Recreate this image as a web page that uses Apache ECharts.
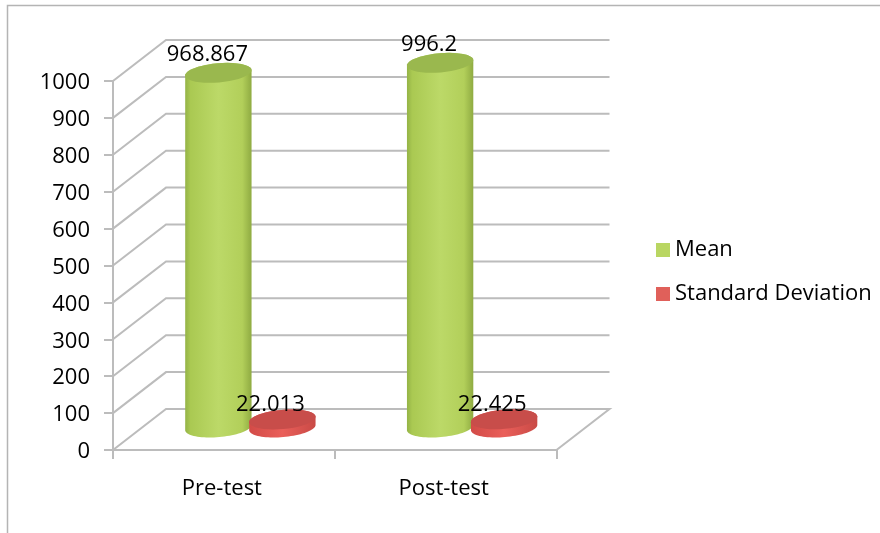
<!DOCTYPE html>
<html><head><meta charset="utf-8">
<style>html,body{margin:0;padding:0;background:#fff}#c{width:880px;height:533px;filter:blur(0.45px)}</style>
<script src="https://cdn.jsdelivr.net/npm/echarts@6/dist/echarts.min.js"></script>
</head><body><div id="c"></div>
<script>
const categories = ['Pre-test', 'Post-test'];
const meanValues = [968.867, 996.2];
const sdValues = [22.013, 22.425];
const meanLabels = ['968.867', '996.2'];
const sdLabels = ['22.013', '22.425'];
const yTicks = [0, 100, 200, 300, 400, 500, 600, 700, 800, 900, 1000];

const FONT = '"Open Sans"';
const DX = 53, DY = -41;
const RX = 33.3, RY = 9.6, TILT = 5 * Math.PI / 180;
const GRID = '#bcbcbc';

function ellipsePts(cx, cy, from, to) {
  const pts = [];
  for (let i = 0; i <= 40; i++) {
    const t = from + (to - from) * i / 40;
    const x = RX * Math.cos(t), y = RY * Math.sin(t);
    pts.push([cx + x * Math.cos(TILT) + y * Math.sin(TILT), cy - x * Math.sin(TILT) + y * Math.cos(TILT)]);
  }
  return pts;
}
function cylinder(offset, bodyStops, topColor, labelDx, labelDy, labels) {
  return function (params, api) {
    const p = api.coord([api.value(0), api.value(1)]);
    const p0 = api.coord([api.value(0), 0]);
    const cx = p0[0] + DX / 2 + offset;
    const baseY = p0[1] + DY / 2 - 2;
    const topY = baseY - 0.992 * (p0[1] - p[1]);
    const bottom = ellipsePts(cx, baseY, 0, Math.PI);
    const top = ellipsePts(cx, topY, Math.PI, 2 * Math.PI);
    return {
      type: 'group',
      children: [
        { type: 'polygon', shape: { points: bottom.concat(top) },
          style: { fill: new echarts.graphic.LinearGradient(0, 0, 1, 0, bodyStops) } },
        { type: 'polygon', shape: { points: ellipsePts(cx, topY, 0, 2 * Math.PI) },
          style: { fill: topColor } },
        { type: 'text', style: { text: labels[params.dataIndex], x: cx + labelDx, y: topY + labelDy,
          align: 'center', verticalAlign: 'middle', font: '22px ' + FONT, fill: '#000' } }
      ]
    };
  };
}
const greenStops = [
  { offset: 0, color: '#94b346' }, { offset: 0.08, color: '#aac952' },
  { offset: 0.5, color: '#bcd968' }, { offset: 0.86, color: '#b2cf5a' },
  { offset: 1, color: '#8fab42' }];
const redStops = [
  { offset: 0, color: '#d24b47' }, { offset: 0.5, color: '#ea5f5a' }, { offset: 1, color: '#c94a46' }];

const option = {
  animation: false,
  backgroundColor: '#fff',
  textStyle: { fontFamily: FONT },
  grid: { left: 113, right: 323.5, top: 81, bottom: 83 },
  graphic: [{ type: 'polyline', silent: true, z: 0,
    shape: { points: [[7.5, 533], [7.5, 5.5], [880, 5.5]] },
    style: { stroke: '#b4b4b4', lineWidth: 1.5, fill: null } }],
  legend: {
    left: 651, top: 234, orient: 'vertical', itemWidth: 14, itemHeight: 14, itemGap: 22,
    icon: 'rect', selectedMode: false,
    textStyle: { fontFamily: FONT, fontSize: 22, color: '#000' },
    data: ['Mean', 'Standard Deviation']
  },
  xAxis: {
    type: 'category', data: categories, boundaryGap: true,
    axisLine: { lineStyle: { color: GRID, width: 2 } },
    axisTick: { show: true, length: 9, lineStyle: { color: GRID, width: 2 } },
    axisLabel: { margin: 28, fontSize: 22, color: '#000', fontFamily: FONT, padding: [0, 4, 0, 0] }
  },
  yAxis: {
    type: 'value', min: 0, max: 1000, interval: 100,
    axisLine: { show: true, lineStyle: { color: GRID, width: 2 } },
    axisTick: { show: true, length: 9, lineStyle: { color: GRID, width: 2 } },
    axisLabel: { margin: 23, color: '#000', formatter: v => '{t|' + v + '}',
      rich: { t: { fontSize: 22, fontFamily: FONT, color: '#000', padding: [4, 0, 0, 0] } } },
    splitLine: { show: false }
  },
  series: [
    { type: 'custom', name: 'walls', silent: true, z: 1, legendHoverLink: false,
      data: yTicks.map(v => [categories[0], v]),
      renderItem(params, api) {
        const y = api.coord([categories[0], api.value(1)])[1];
        const s = params.coordSys;
        const points = [[s.x, y], [s.x + DX, y + DY], [s.x + s.width + DX, y + DY]];
        if (api.value(1) === 0) points.push([s.x + s.width, y]);
        return { type: 'polyline', shape: { points },
          style: { stroke: GRID, lineWidth: 2, fill: null } };
      } },
    { type: 'custom', name: 'Mean', z: 3, itemStyle: { color: '#b9d662' },
      encode: { x: 0, y: 1 },
      data: categories.map((c, i) => [c, meanValues[i]]),
      renderItem: cylinder(-32, greenStops, '#9ab84e', -11, -18, meanLabels) },
    { type: 'custom', name: 'Standard Deviation', z: 4, itemStyle: { color: '#e0605a' },
      encode: { x: 0, y: 1 },
      data: categories.map((c, i) => [c, sdValues[i]]),
      renderItem: cylinder(32, redStops, '#c84d4a', -12, -15, sdLabels) }
  ]
};
echarts.init(document.getElementById('c'), null, { renderer: 'canvas' }).setOption(option);
</script></body></html>
